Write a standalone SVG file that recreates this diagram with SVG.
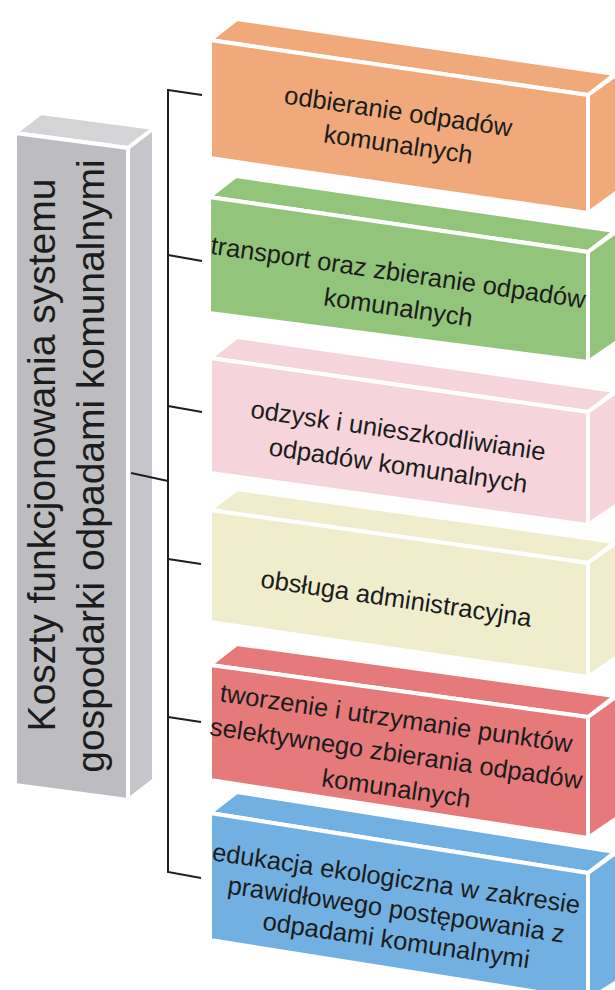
<svg xmlns="http://www.w3.org/2000/svg" width="615" height="990" viewBox="0 0 615 990">
<style>
  .face { stroke: #ffffff; stroke-width: 4; stroke-linejoin: round; }
  .gray-f { fill: #BDBDC1; } .gray-t { fill: #D4D4D7; } .gray-s { fill: #C6C6CA; }
  .orange { fill: #F0A97B; }
  .green { fill: #93C47B; }
  .pink { fill: #F5D4DB; }
  .yellow { fill: #EFEDCC; }
  .red { fill: #E67A7B; }
  .blue { fill: #72B0E2; }
  .lbl { font-family: "Liberation Sans", "DejaVu Sans", sans-serif; font-size: 25.5px; fill: #1c1c1c; text-anchor: middle; }
  .title { font-family: "Liberation Sans", "DejaVu Sans", sans-serif; font-size: 39px; fill: #1c1c1c; text-anchor: middle; }
  .conn { stroke: #1e1e1e; stroke-width: 2; fill: none; }
</style>
<rect width="615" height="990" fill="#ffffff"/>

<g id="root">
  <polygon class="face gray-t" points="15,133 128,148 154,128 41,113"/>
  <polygon class="face gray-s" points="128,148 154,128 154,780 128,800"/>
  <polygon class="face gray-f" points="15,133 128,148 128,800 15,785"/>
  <text class="title" transform="translate(55,455) rotate(-90)">Koszty funkcjonowania systemu</text>
  <text class="title" transform="translate(104,466) rotate(-90)">gospodarki odpadami komunalnymi</text>
</g>

<g id="connectors">
  <polyline class="conn" points="168,89 168,872 201,878"/>
  <line class="conn" x1="168" y1="90" x2="202" y2="95"/>
  <line class="conn" x1="168" y1="255" x2="202" y2="261"/>
  <line class="conn" x1="168" y1="406" x2="202" y2="412"/>
  <line class="conn" x1="168" y1="559" x2="201" y2="564"/>
  <line class="conn" x1="168" y1="717" x2="201" y2="722"/>
  <line class="conn" x1="131" y1="473" x2="168" y2="481"/>
</g>

<g id="n1">
  <polygon class="face orange" points="210,40 588,95 615,74 237,19"/>
  <polygon class="face orange" points="588,95 620,72 620,190 588,213"/>
  <polygon class="face orange" points="210,40 588,95 588,213 210,158"/>
  <text class="lbl" x="397" y="120" transform="rotate(8.3 397 120)">odbieranie odpadów</text>
  <text class="lbl" x="397" y="153" transform="rotate(8.3 397 153)">komunalnych</text>
</g>

<g id="n2">
  <polygon class="face green" points="209,197 588,252 615,231 236,176"/>
  <polygon class="face green" points="588,252 620,229 620,340 588,362"/>
  <polygon class="face green" points="209,197 588,252 588,362 209,313"/>
  <text class="lbl" x="397" y="281" transform="rotate(8.3 397 281)">transport oraz zbieranie odpadów</text>
  <text class="lbl" x="397" y="316" transform="rotate(8.3 397 316)">komunalnych</text>
</g>

<g id="n3">
  <polygon class="face pink" points="210,358 588,412 615,391 237,337"/>
  <polygon class="face pink" points="588,412 620,389 620,503 588,525"/>
  <polygon class="face pink" points="210,358 588,412 588,525 210,473"/>
  <text class="lbl" x="397" y="439" transform="rotate(8.3 397 439)">odzysk i unieszkodliwianie</text>
  <text class="lbl" x="397" y="474" transform="rotate(8.3 397 474)">odpadów komunalnych</text>
</g>

<g id="n4">
  <polygon class="face yellow" points="210,510 588,563 615,542 237,489"/>
  <polygon class="face yellow" points="588,563 620,540 620,655 588,677"/>
  <polygon class="face yellow" points="210,510 588,563 588,677 210,622"/>
  <text class="lbl" x="395" y="607" transform="rotate(8.3 395 607)">obsługa administracyjna</text>
</g>

<g id="n5">
  <polygon class="face red" points="210,665 588,717 615,696 237,644"/>
  <polygon class="face red" points="588,717 620,694 620,816 588,838"/>
  <polygon class="face red" points="210,665 588,717 588,838 210,780"/>
  <text class="lbl" x="395" y="727" transform="rotate(8.3 395 727)">tworzenie i utrzymanie punktów</text>
  <text class="lbl" x="395" y="762" transform="rotate(8.3 395 762)">selektywnego zbierania odpadów</text>
  <text class="lbl" x="395" y="797" transform="rotate(8.3 395 797)">komunalnych</text>
</g>

<g id="n6">
  <polygon class="face blue" points="210,813 588,873 615,852 237,792"/>
  <polygon class="face blue" points="588,873 620,850 620,980 588,1000"/>
  <polygon class="face blue" points="210,813 588,873 588,1000 210,940"/>
  <text class="lbl" x="395" y="887" transform="rotate(8.3 395 887)">edukacja ekologiczna w zakresie</text>
  <text class="lbl" x="395" y="918" transform="rotate(8.3 395 918)">prawidłowego postępowania z</text>
  <text class="lbl" x="395" y="949" transform="rotate(8.3 395 949)">odpadami komunalnymi</text>
</g>
</svg>
